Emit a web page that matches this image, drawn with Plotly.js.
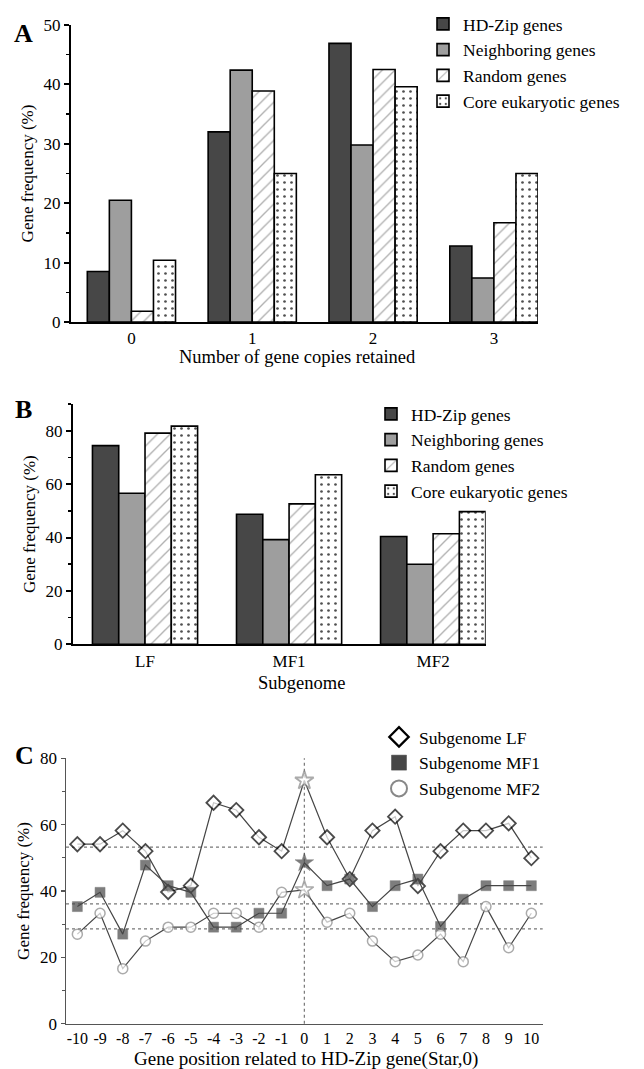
<!DOCTYPE html>
<html>
<head>
<meta charset="utf-8">
<script src="https://cdn.plot.ly/plotly-3.0.1.min.js"></script>
<style>html,body{margin:0;padding:0;background:#fff;}#chart{width:644px;height:1069px;}</style>
</head>
<body>
<div id="chart"></div>
<script>
// ---- Panel A data ----
const copiesCats = ['0', '1', '2', '3'];
const copiesHDZip = [8.5, 32.0, 46.9, 12.8];
const copiesNeighboring = [20.5, 42.4, 29.8, 7.4];
const copiesRandom = [1.8, 38.9, 42.5, 16.7];
const copiesCore = [10.4, 25.0, 39.6, 25.0];

// ---- Panel B data ----
const subgenomeCats = ['LF', 'MF1', 'MF2'];
const subHDZip = [74.4, 48.7, 40.4];
const subNeighboring = [56.6, 39.2, 30.0];
const subRandom = [79.1, 52.6, 41.4];
const subCore = [81.7, 63.5, 49.7];

// ---- Panel C data ----
const positions = [-10,-9,-8,-7,-6,-5,-4,-3,-2,-1,0,1,2,3,4,5,6,7,8,9,10];
const positionLabels = ['-10','-9','-8','-7','-6','-5','-4','-3','-2','-1','0','1','2','3','4','5','6','7','8','9','10'];
const freqLF  = [54.1,54.1,58.2,52.0,39.7,41.6,66.6,64.4,56.2,52.0,73.3,56.2,43.6,58.2,62.4,41.5,52.0,58.2,58.2,60.4,49.9];
const freqMF1 = [35.3,39.6,27.0,47.8,41.6,39.6,29.1,29.1,33.3,33.3,48.5,41.6,43.6,35.3,41.6,43.6,29.3,37.5,41.6,41.6,41.6];
const freqMF2 = [27.0,33.3,16.6,24.9,29.1,29.1,33.3,33.3,29.1,39.6,40.3,30.6,33.3,24.9,18.7,20.7,27.0,18.7,35.3,22.9,33.3];
const meanLines = [53.2, 36.1, 28.6];

const FONT = 'Liberation Serif';
const W = 644, H = 1069;
const px = v => v / W;
const py = v => 1 - v / H;

const barNames = ['HD-Zip genes', 'Neighboring genes', 'Random genes', 'Core eukaryotic genes'];
function barMarker(i) {
  const line = {color: '#000', width: 1.6};
  if (i === 0) return {color: '#474747', line};
  if (i === 1) return {color: '#9e9e9e', line};
  if (i === 2) return {color: '#ffffff', line, pattern: {shape: '/', fgcolor: '#b0b0b0', bgcolor: '#ffffff', size: 9, solidity: 0.15}};
  return {color: '#ffffff', line, pattern: {shape: '.', fgcolor: '#505050', bgcolor: '#ffffff', size: 7, solidity: 0.12}};
}

const traces = [];
[copiesHDZip, copiesNeighboring, copiesRandom, copiesCore].forEach((vals, i) => {
  traces.push({type: 'bar', x: copiesCats, y: vals, name: barNames[i], marker: barMarker(i),
    xaxis: 'x', yaxis: 'y', legend: 'legend', hoverinfo: 'y'});
});
[subHDZip, subNeighboring, subRandom, subCore].forEach((vals, i) => {
  traces.push({type: 'bar', x: subgenomeCats, y: vals, name: barNames[i], marker: barMarker(i),
    xaxis: 'x2', yaxis: 'y2', legend: 'legend2', hoverinfo: 'y'});
});

function symbolsFor(base) { return positions.map(p => p === 0 ? 'star' : base); }
const lineSeries = [
  {name: 'Subgenome LF', y: freqLF, sym: 'diamond', size: 11, fill: '#ffffff', edge: '#000', ew: 1.8, starEdge: '#888', legSize: 15, legEw: 2.2},
  {name: 'Subgenome MF1', y: freqMF1, sym: 'square', size: 10, fill: '#474747', edge: '#474747', ew: 0.5, starEdge: '#474747', legSize: 15, legEw: 0.5},
  {name: 'Subgenome MF2', y: freqMF2, sym: 'circle', size: 10, fill: '#ffffff', edge: '#888', ew: 1.5, starEdge: '#888', legSize: 16, legEw: 2}
];
lineSeries.forEach(s => {
  traces.push({type: 'scatter', mode: 'lines+markers', x: positions, y: s.y, name: s.name,
    xaxis: 'x3', yaxis: 'y3', showlegend: false,
    line: {color: '#454545', width: 1.2},
    marker: {symbol: symbolsFor(s.sym), size: positions.map(p => p === 0 ? 14 : s.size),
      color: s.fill, line: {color: positions.map(p => p === 0 ? s.starEdge : s.edge), width: s.ew}}});
});
// legend-only entries (marker only, like the original key)
lineSeries.forEach(s => {
  traces.push({type: 'scatter', mode: 'markers', x: [null], y: [null], name: s.name,
    xaxis: 'x3', yaxis: 'y3', legend: 'legend3',
    marker: {symbol: s.sym, size: s.legSize, color: s.fill, line: {color: s.edge, width: s.legEw}}});
});

const tickFont = {family: FONT, size: 17, color: '#000'};
const ytitleFont = {family: FONT, size: 17, color: '#000'};
const legFont = {family: FONT, size: 17.5, color: '#000'};

const shapes = meanLines.map(v => ({type: 'line', xref: 'x3 domain', yref: 'y3', x0: 0, x1: 1, y0: v, y1: v,
  line: {color: '#777', width: 1.2, dash: 'dot'}, layer: 'below'}));
shapes.push({type: 'line', xref: 'x3', yref: 'y3 domain', x0: 0, x1: 0, y0: 0, y1: 1,
  line: {color: '#777', width: 1.2, dash: 'dot'}, layer: 'below'});

function textAt(text, x, y, size, bold) {
  return {text: bold ? '<b>' + text + '</b>' : text, xref: 'paper', yref: 'paper', x: px(x), y: py(y),
    xanchor: bold ? 'left' : 'center', yanchor: 'middle', showarrow: false,
    font: {family: FONT, size: size, color: '#000'}};
}

const layout = {
  width: W, height: H,
  margin: {l: 0, r: 0, t: 0, b: 0},
  paper_bgcolor: '#fff', plot_bgcolor: 'rgba(0,0,0,0)',
  font: {family: FONT, color: '#000'},
  barmode: 'group', bargap: 0.27, bargroupgap: 0,
  showlegend: true,
  xaxis: {domain: [px(71), px(538)], type: 'category', range: [-0.5, 3.365],
    showline: true, linecolor: '#000', linewidth: 2, ticks: '', tickfont: tickFont, anchor: 'y'},
  yaxis: {domain: [py(322), py(25)], range: [0, 50], dtick: 10, showgrid: false, zeroline: false,
    showline: true, linecolor: '#000', linewidth: 2, ticks: 'outside', ticklen: 5, tickwidth: 2, tickcolor: '#000',
    minor: {dtick: 5, ticks: 'outside', ticklen: 3, tickwidth: 1.5, tickcolor: '#000', showgrid: false},
    tickfont: tickFont, title: {text: 'Gene frequency (%)', font: ytitleFont, standoff: 6}, anchor: 'x'},
  xaxis2: {domain: [px(73), px(485.7)], type: 'category', range: [-0.5, 2.365],
    showline: true, linecolor: '#000', linewidth: 2, ticks: '', tickfont: tickFont, anchor: 'y2'},
  yaxis2: {domain: [py(644.3), py(404)], range: [0, 90], tickvals: [0, 20, 40, 60, 80], showgrid: false, zeroline: false,
    showline: true, linecolor: '#000', linewidth: 2, ticks: 'outside', ticklen: 5, tickwidth: 2, tickcolor: '#000',
    minor: {tickvals: [10, 30, 50, 70, 90], ticks: 'outside', ticklen: 3, tickwidth: 1.5, tickcolor: '#000', showgrid: false},
    tickfont: tickFont, title: {text: 'Gene frequency (%)', font: ytitleFont, standoff: 6}, anchor: 'x2'},
  xaxis3: {domain: [px(66), px(542.7)], range: [-10.5, 10.5], tickvals: positions, ticktext: positionLabels,
    showgrid: false, zeroline: false,
    showline: true, linecolor: '#555', linewidth: 1.5, ticks: '', tickfont: {family: FONT, size: 16, color: '#000'}, anchor: 'y3'},
  yaxis3: {domain: [py(1023.7), py(758.3)], range: [0, 80], dtick: 20, showgrid: false, zeroline: false,
    showline: true, linecolor: '#555', linewidth: 1.5, ticks: 'outside', ticklen: 4, tickwidth: 1.5, tickcolor: '#555',
    minor: {dtick: 10, ticks: 'outside', ticklen: 3, tickwidth: 1.2, tickcolor: '#555', showgrid: false},
    tickfont: tickFont, title: {text: 'Gene frequency (%)', font: ytitleFont, standoff: 6}, anchor: 'x3'},
  legend: {x: px(423), y: py(6), xanchor: 'left', yanchor: 'top', bgcolor: 'rgba(0,0,0,0)',
    font: legFont, tracegroupgap: 0, traceorder: 'normal'},
  legend2: {x: px(371), y: py(396), xanchor: 'left', yanchor: 'top', bgcolor: 'rgba(0,0,0,0)',
    font: legFont, tracegroupgap: 0, traceorder: 'normal'},
  legend3: {x: px(379), y: py(719), xanchor: 'left', yanchor: 'top', bgcolor: 'rgba(0,0,0,0)',
    font: legFont, tracegroupgap: 0, traceorder: 'normal'},
  shapes: shapes,
  annotations: [
    textAt('A', 12, 33, 26, true),
    textAt('B', 13, 410, 26, true),
    textAt('C', 13, 755, 26, true),
    textAt('Number of gene copies retained', 297, 357, 18.5, false),
    textAt('Subgenome', 301, 683, 18.5, false),
    textAt('Gene position related to HD-Zip gene(Star,0)', 306, 1059, 19, false)
  ]
};

Plotly.newPlot('chart', traces, layout, {displayModeBar: false, staticPlot: true});
</script>
</body>
</html>
